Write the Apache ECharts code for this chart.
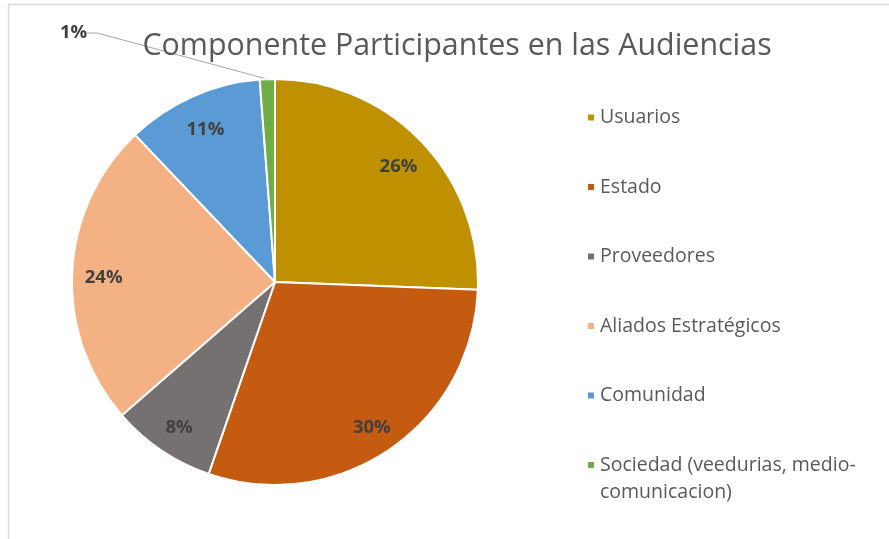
<!DOCTYPE html>
<html>
<head>
<meta charset="utf-8">
<script src="https://cdn.jsdelivr.net/npm/echarts@6/dist/echarts.min.js"></script>
<style>
	html, body { margin: 0; padding: 0; background: #fff; }
	#chart { width: 889px; height: 539px; }
</style>
</head>
<body>
<div id="chart"></div>
<script>
// categorias y valores (%)
const categorias = ['Usuarios', 'Estado', 'Proveedores', 'Aliados Estratégicos', 'Comunidad', 'Sociedad (veedurias, medio-comunicacion)'];
const valores = [25.6, 29.7, 8.3, 24.3, 10.9, 1.2];
const colores = ['#BF9000', '#C55A11', '#767171', '#F4B183', '#5B9BD5', '#70AD47'];

const chart = echarts.init(document.getElementById('chart'));

const datos = categorias.map((c, i) => ({
	name: c,
	value: valores[i],
	itemStyle: { color: colores[i] }
}));

const FONT = "'Open Sans', sans-serif";
const etiqueta = p => Math.round(p.percent) + '%';

chart.setOption({
	animation: false,
	title: {
		text: 'Componente Participantes en las Audiencias',
		left: 452,
		textAlign: 'center',
		top: 26,
		textStyle: { fontFamily: FONT, fontSize: 30.4, fontWeight: 'normal', color: '#595959' }
	},
	// marco del grafico
	graphic: [{
		type: 'rect',
		silent: true,
		shape: { x: 8.5, y: 4.5, width: 1000, height: 1000 },
		style: { fill: 'none', stroke: '#D9D9D9', lineWidth: 1.5 }
	}],
	legend: {
		orient: 'vertical',
		left: 586,
		top: 77,
		padding: 0,
		icon: 'rect',
		itemWidth: 8,
		itemHeight: 8,
		itemGap: -11.5,
		selectedMode: false,
		textStyle: { fontFamily: FONT, fontSize: 19.5, color: '#595959', lineHeight: 27 },
		data: categorias,
		// tres lineas por item: la linea central queda a la altura del icono
		formatter: function(name) {
			if (name.indexOf('medio-comunicacion') >= 0) {
				return '\n' + name.replace('medio-comunicacion)', 'medio-\ncomunicacion)');
			}
			return '\n' + name + '\n';
		}
	},
	series: [
		{
			// porciones
			type: 'pie',
			center: [275, 282],
			radius: 203,
			startAngle: 90,
			clockwise: true,
			data: datos,
			itemStyle: { borderColor: '#fff', borderWidth: 2 },
			label: { show: false },
			labelLine: { show: false },
			emphasis: { disabled: true }
		},
		{
			// etiqueta externa 1%
			type: 'pie',
			center: [275, 282],
			radius: 203,
			startAngle: 90,
			clockwise: true,
			silent: true,
			data: datos.map((d, i) => ({
				name: d.name,
				value: d.value,
				itemStyle: { color: 'transparent' },
				label: { show: i === 5 },
				labelLine: { show: i === 5 }
			})),
			label: {
				position: 'outside',
				formatter: etiqueta,
				fontFamily: FONT,
				fontSize: 18.5,
				fontWeight: 'bold',
				color: '#404040'
			},
			labelLine: {
				length: 15,
				length2: 10,
				lineStyle: { color: '#A6A6A6', width: 1 }
			},
			labelLayout: function(params) {
				if (params.dataIndex === 5) {
					return { x: 60, y: 33, align: 'left', verticalAlign: 'middle' };
				}
			}
		},
		{
			// etiquetas internas
			type: 'pie',
			center: [275, 282],
			radius: [134, 203],
			startAngle: 90,
			clockwise: true,
			silent: true,
			data: datos.map((d, i) => ({
				name: d.name,
				value: d.value,
				itemStyle: { color: 'transparent' },
				label: { show: i !== 5 }
			})),
			label: {
				position: 'inside',
				formatter: etiqueta,
				offset: [0, 4],
				fontFamily: FONT,
				fontSize: 18.5,
				fontWeight: 'bold',
				color: '#404040'
			},
			labelLine: { show: false }
		}
	]
});
</script>
</body>
</html>
